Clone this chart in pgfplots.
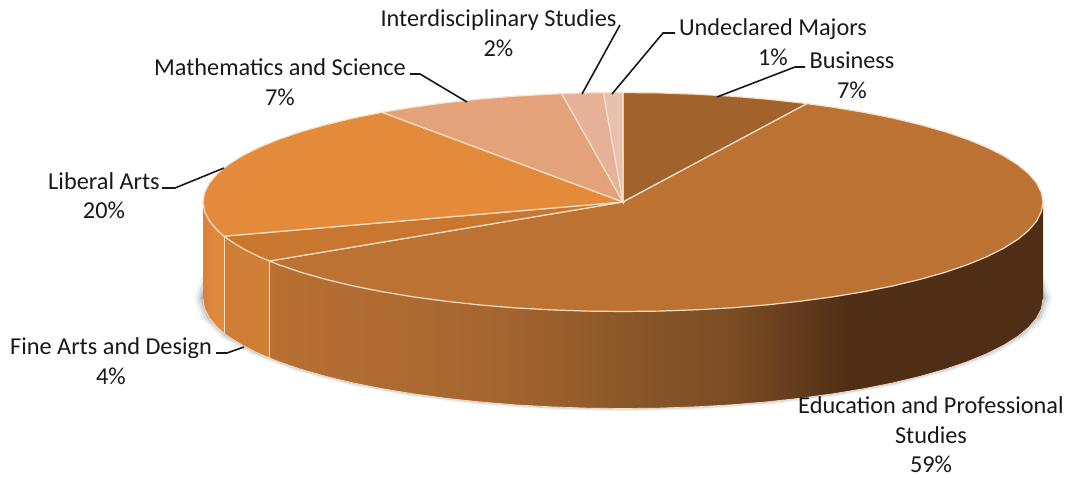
\documentclass[border=0pt]{standalone}
\usepackage{pgfplots}
\usepackage{pgfplotstable}
\usepackage{fontspec}
\setmainfont{Carlito}
\pgfplotsset{compat=1.18}
\definecolor{cBus}{HTML}{A2622B}
\definecolor{cEdu}{HTML}{BC7232}
\definecolor{cFine}{HTML}{C9772F}
\definecolor{cLib}{HTML}{E38B3A}
\definecolor{cMath}{HTML}{E3A279}
\definecolor{cInt}{HTML}{E6B196}
\definecolor{cUnd}{HTML}{E8C1AE}
\definecolor{cEdge}{HTML}{F6E0C8}
\definecolor{cFineSide}{HTML}{D07D35}
\definecolor{cShadow}{HTML}{6E7F90}
\definecolor{eA}{HTML}{B87033}
\definecolor{eB}{HTML}{A56530}
\definecolor{eC}{HTML}{8C5829}
\definecolor{eD}{HTML}{7A4C24}
\definecolor{eE}{HTML}{4F2E15}
\definecolor{lA}{HTML}{D8823A}
\definecolor{lB}{HTML}{E08A3C}
\pgfdeclarehorizontalshading{edushade}{100bp}{color(0bp)=(eA); color(25bp)=(eA); color(40bp)=(eB); color(47.6bp)=(eC); color(55bp)=(eD); color(62.5bp)=(eE); color(100bp)=(eE)}
\pgfdeclarehorizontalshading{libshade}{100bp}{color(0bp)=(lA); color(25bp)=(lA); color(60bp)=(lB); color(100bp)=(lB)}
\pgfplotstableread{
x y
1043 202
1036.6 221
1017.7 239.4
986.7 256.75
944.7 272.4
893 285.9
833 296.8
766.6 304.9
695.9 309.8
623 311.5
550.1 309.8
479.4 304.9
413 296.8
353 285.9
301.3 272.4
259.3 256.75
228.3 239.4
209.4 221
203 202
209.4 183
228.3 164.6
259.3 147.25
301.3 131.6
353 118.1
413 107.2
479.4 99.1
550.1 94.2
623 92.5
695.9 94.2
766.6 99.1
833 107.2
893 118.1
944.7 131.6
986.7 147.25
1017.7 164.6
1036.6 183
}\rimtable
\begin{document}
\begin{tikzpicture}
\begin{axis}[
  scale only axis, width=1066pt, height=477pt,
  xmin=0, xmax=1066, ymin=0, ymax=477, y dir=reverse,
  hide axis, clip=false, no markers,
]
\path[use as bounding box] (rel axis cs:0,0) rectangle (rel axis cs:1,1);
% soft shadow
\addplot[draw=none, fill=cShadow, fill opacity=.10] table[x expr={623+(\thisrow{x}-623)*1.021}, y expr={298+(\thisrow{y}-202)*1.035}] {\rimtable} -- cycle;
\addplot[draw=none, fill=cShadow, fill opacity=.18] table[x expr={623+(\thisrow{x}-623)*1.014}, y expr={298+(\thisrow{y}-202)*1.024}] {\rimtable} -- cycle;
\addplot[draw=none, fill=cShadow, fill opacity=.30] table[x expr={623+(\thisrow{x}-623)*1.007}, y expr={298+(\thisrow{y}-202)*1.012}] {\rimtable} -- cycle;
% side: liberal arts
\addplot[draw=none, shade, shading=libshade] coordinates {
(203,202)(204.6,211.5)(209.4,221)(217.3,230.3)(224,236.2)
(224,333.2)(217.3,327.3)(209.4,318)(204.6,308.5)(203,299)} -- cycle;
% side: fine arts
\addplot[draw=none, fill=cFineSide] coordinates {
(224,236.2)(228.3,239.4)(242.4,248.3)(259.3,256.75)(269.5,261)
(269.5,358)(259.3,353.75)(242.4,345.3)(228.3,336.4)(224,333.2)} -- cycle;
% side: education
\addplot[draw=none, shade, shading=edushade] coordinates {
(1043,202)(1041.4,211.5)(1036.6,221)(1028.7,230.3)(1017.7,239.4)(1003.6,248.3)(986.7,256.75)(967.1,264.8)(944.7,272.4)(920,279.4)(893,285.9)(863.9,291.7)(833,296.8)(800.5,301.2)(766.6,304.9)(731.7,307.8)(695.9,309.8)(659.6,311.1)(623,311.5)(586.4,311.1)(550.1,309.8)(514.3,307.8)(479.4,304.9)(445.5,301.2)(413,296.8)(382.1,291.7)(353,285.9)(326,279.4)(301.3,272.4)(279,264.8)(269.5,261)
(269.5,358)(279,361.8)(301.3,369.4)(326,376.4)(353,382.9)(382.1,388.7)(413,393.8)(445.5,398.2)(479.4,401.9)(514.3,404.8)(550.1,406.8)(586.4,408.1)(623,408.5)(659.6,408.1)(695.9,406.8)(731.7,404.8)(766.6,401.9)(800.5,398.2)(833,393.8)(863.9,388.7)(893,382.9)(920,376.4)(944.7,369.4)(967.1,361.8)(986.7,353.75)(1003.6,345.3)(1017.7,336.4)(1028.7,327.3)(1036.6,318)(1041.4,308.5)(1043,299)} -- cycle;
% bottom rim and side dividers
\addplot[draw=cEdge, line width=.7pt] coordinates {
(203,299)(204.6,308.5)(209.4,318)(217.3,327.3)(224,333.2)(228.3,336.4)(242.4,345.3)(259.3,353.75)(269.5,358)(279,361.8)(301.3,369.4)(326,376.4)(353,382.9)(382.1,388.7)(413,393.8)(445.5,398.2)(479.4,401.9)(514.3,404.8)(550.1,406.8)(586.4,408.1)(623,408.5)(659.6,408.1)(695.9,406.8)(731.7,404.8)(766.6,401.9)(800.5,398.2)(833,393.8)(863.9,388.7)(893,382.9)(920,376.4)(944.7,369.4)(967.1,361.8)(986.7,353.75)(1003.6,345.3)(1017.7,336.4)(1028.7,327.3)(1036.6,318)(1041.4,308.5)(1043,299)};
\addplot[draw=cEdge, line width=1pt] coordinates {(224,236.2)(224,333.2)};
\addplot[draw=cEdge, line width=1pt] coordinates {(269.5,261)(269.5,358)};
% top: sectors
\addplot[draw=cEdge, line width=1.2pt, fill=cBus] coordinates {(623,202)(623,92.5)(659.6,92.9)(695.9,94.2)(731.7,96.2)(766.6,99.1)(800.5,102.8)(807,103.6)} -- cycle;
\addplot[draw=cEdge, line width=1.2pt, fill=cEdu] coordinates {(623,202)(807,103.6)(833,107.2)(863.9,112.3)(893,118.1)(920,124.6)(944.7,131.6)(967.1,139.2)(986.7,147.25)(1003.6,155.7)(1017.7,164.6)(1028.7,173.7)(1036.6,183)(1041.4,192.5)(1043,202)(1041.4,211.5)(1036.6,221)(1028.7,230.3)(1017.7,239.4)(1003.6,248.3)(986.7,256.75)(967.1,264.8)(944.7,272.4)(920,279.4)(893,285.9)(863.9,291.7)(833,296.8)(800.5,301.2)(766.6,304.9)(731.7,307.8)(695.9,309.8)(659.6,311.1)(623,311.5)(586.4,311.1)(550.1,309.8)(514.3,307.8)(479.4,304.9)(445.5,301.2)(413,296.8)(382.1,291.7)(353,285.9)(326,279.4)(301.3,272.4)(279,264.8)(269.5,261)} -- cycle;
\addplot[draw=cEdge, line width=1.2pt, fill=cFine] coordinates {(623,202)(269.5,261)(259.3,256.75)(242.4,248.3)(228.3,239.4)(224,236.2)} -- cycle;
\addplot[draw=cEdge, line width=1.2pt, fill=cLib] coordinates {(623,202)(224,236.2)(217.3,230.3)(209.4,221)(204.6,211.5)(203,202)(204.6,192.5)(209.4,183)(217.3,173.7)(228.3,164.6)(242.4,155.7)(259.3,147.25)(279,139.2)(301.3,131.6)(326,124.6)(353,118.1)(382.1,112.3)} -- cycle;
\addplot[draw=cEdge, line width=1.2pt, fill=cMath] coordinates {(623,202)(382.1,112.3)(413,107.2)(445.5,102.8)(479.4,99.1)(514.3,96.2)(550.1,94.2)(561.7,93.7)} -- cycle;
\addplot[draw=cEdge, line width=1.2pt, fill=cInt] coordinates {(623,202)(561.7,93.7)(586.4,92.9)(603.3,92.7)} -- cycle;
\addplot[draw=cEdge, line width=1.2pt, fill=cUnd] coordinates {(623,202)(603.3,92.7)(623,92.5)} -- cycle;
% leader lines
\addplot[black!90, line width=1.6pt] coordinates {(620,25)(582,94)};
\addplot[black!90, line width=1.6pt] coordinates {(675,33)(663,33)(612,94)};
\addplot[black!90, line width=1.6pt] coordinates {(805,67)(795,67)(717,97)};
\addplot[black!90, line width=1.6pt] coordinates {(410,74)(420,74)(467,102)};
\addplot[black!90, line width=1.6pt] coordinates {(162,188)(175,188)(224,168)};
\addplot[black!90, line width=1.6pt] coordinates {(216,353)(227,353)(244,347)};
% labels
\tikzset{lab/.style={anchor=center, align=center, inner sep=0pt, text=black!90, font=\fontsize{24.3}{29.5}\selectfont}}
\node[lab] at (axis cs:498.5,33) {Interdisciplinary Studies\\2\%};
\node[lab] at (axis cs:773,42) {Undeclared Majors\\1\%};
\node[lab] at (axis cs:852,75) {Business\\7\%};
\node[lab] at (axis cs:280,82) {Mathematics and Science\\7\%};
\node[lab] at (axis cs:104,195.5) {Liberal Arts\\20\%};
\node[lab] at (axis cs:111,361) {Fine Arts and Design\\4\%};
\node[lab] at (axis cs:931,435) {Education and Professional\\Studies\\59\%};
\end{axis}
\end{tikzpicture}
\end{document}
